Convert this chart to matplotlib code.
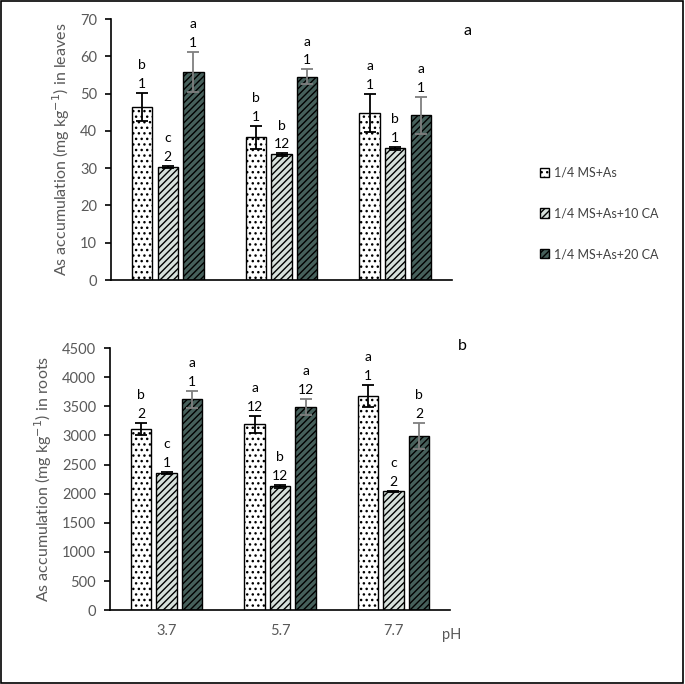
import matplotlib.pyplot as plt
import numpy as np
from matplotlib.patches import Rectangle

plt.rcParams['font.family'] = ['Lato', 'DejaVu Sans']
plt.rcParams['hatch.linewidth'] = 1.0

ph = ["3.7", "5.7", "7.7"]
series = ["1/4 MS+As", "1/4 MS+As+10 CA", "1/4 MS+As+20 CA"]

# leaves
leaf_ms = [46.4, 38.3, 44.9]
leaf_ms_err = [3.8, 3.1, 5.1]
leaf_ca10 = [30.4, 33.7, 35.3]
leaf_ca10_err = [0.3, 0.3, 0.4]
leaf_ca20 = [55.9, 54.6, 44.2]
leaf_ca20_err = [5.4, 1.9, 5.0]
leaf_letters = [["b", "c", "a"], ["b", "b", "a"], ["a", "b", "a"]]
leaf_nums = [["1", "2", "1"], ["1", "12", "1"], ["1", "1", "1"]]

# roots
root_ms = [3115, 3195, 3680]
root_ms_err = [100, 145, 195]
root_ca10 = [2355, 2125, 2040]
root_ca10_err = [15, 20, 10]
root_ca20 = [3620, 3490, 2990]
root_ca20_err = [150, 135, 230]
root_letters = [["b", "c", "a"], ["a", "b", "a"], ["a", "c", "b"]]
root_nums = [["2", "1", "1"], ["12", "12", "12"], ["1", "2", "2"]]

styles = [
    dict(color="white", hatch="...", ecol="black"),
    dict(color="#d6e0db", hatch="/////", ecol="black"),
    dict(color="#46605b", hatch="/////", ecol="#7f7f7f"),
]

fig = plt.figure(figsize=(6.85, 6.84), dpi=100)
fig.patches.append(Rectangle((0.002, 0.002), 0.995, 0.996, transform=fig.transFigure,
                             fill=False, edgecolor="black", linewidth=1.2))

ax1 = fig.add_axes([0.162, 0.5906, 0.498, 0.3814])
ax2 = fig.add_axes([0.1606, 0.108, 0.4964, 0.383])

x = np.arange(len(ph))
w = 0.18
offs = [-0.225, 0, 0.225]


def draw(ax, vals, errs, letters, nums, ymax, ystep, ylabel):
    for i in range(3):
        st = styles[i]
        ax.bar(x + offs[i], vals[i], w, color=st["color"], edgecolor="black",
               hatch=st["hatch"], linewidth=1.0, label=series[i])
        ax.errorbar(x + offs[i], vals[i], yerr=errs[i], fmt="none",
                    ecolor=st["ecol"], elinewidth=1.3, capsize=4, capthick=1.3)
        for j in range(3):
            top = vals[i][j] + errs[i][j]
            ax.annotate(nums[j][i], (x[j] + offs[i], top), xytext=(0, 6.5),
                        textcoords="offset points", ha="center", va="center",
                        fontsize=10)
            ax.annotate(letters[j][i], (x[j] + offs[i], top), xytext=(0, 20),
                        textcoords="offset points", ha="center", va="center",
                        fontsize=10)
    ax.set_xlim(-0.5, 2.5)
    ax.set_ylim(0, ymax)
    ax.set_yticks(np.arange(0, ymax + 1, ystep))
    ax.spines["top"].set_visible(False)
    ax.spines["right"].set_visible(False)
    ax.spines["left"].set_linewidth(1.2)
    ax.spines["bottom"].set_linewidth(1.2)
    ax.tick_params(axis="y", direction="out", length=4, width=1.2, labelsize=10.5,
                   labelcolor="#595959", pad=6)
    ax.tick_params(axis="x", length=0, labelsize=10.5, labelcolor="#595959", pad=10)
    ax.set_ylabel(ylabel, fontsize=11.5, color="#595959", labelpad=6)


draw(ax1, [leaf_ms, leaf_ca10, leaf_ca20], [leaf_ms_err, leaf_ca10_err, leaf_ca20_err],
     leaf_letters, leaf_nums, 70, 10, r"As accumulation (mg kg$^{-1}$) in leaves")
ax1.set_xticks([])

draw(ax2, [root_ms, root_ca10, root_ca20], [root_ms_err, root_ca10_err, root_ca20_err],
     root_letters, root_nums, 4500, 500, r"As accumulation (mg kg$^{-1}$) in roots")
ax2.set_xticks(x)
ax2.set_xticklabels(ph)

fig.text(0.66, 0.072, "pH", fontsize=10.5, color="#595959", ha="center", va="center")
fig.text(0.683, 0.955, "a", fontsize=11.5, ha="center", va="center")
fig.text(0.675, 0.494, "b", fontsize=11.5, ha="center", va="center")

ax1.legend(loc="center left", bbox_to_anchor=(0.772, 0.688), bbox_transform=fig.transFigure,
           frameon=False, fontsize=9, labelcolor="#404040", handlelength=0.75,
           handleheight=0.75, labelspacing=2.3, handletextpad=0.4)

fig.savefig("out.png", dpi=100)
